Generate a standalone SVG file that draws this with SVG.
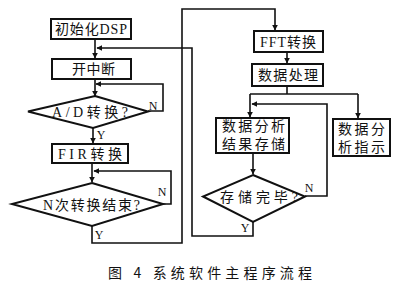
<svg xmlns="http://www.w3.org/2000/svg" width="399" height="290" viewBox="0 0 399 290">
<defs>
<marker id="ah" viewBox="0 0 10 10" refX="9" refY="5" markerWidth="6" markerHeight="6" orient="auto" markerUnits="userSpaceOnUse">
<path d="M0,0 L10,5 L0,10 z" fill="#111"/>
</marker>
<style>
.box{fill:#fff;stroke:#111;stroke-width:2}
.ln{fill:none;stroke:#111;stroke-width:1.6}
.t{font-family:"Liberation Serif","Noto Sans CJK SC",serif;font-size:14px;fill:#111;text-anchor:middle}
.lab{font-family:"Liberation Serif",serif;font-size:12px;fill:#111;text-anchor:middle}
.cap{font-family:"Noto Sans CJK SC",sans-serif;font-size:14px;fill:#111}
</style>
</defs>
<rect width="399" height="290" fill="#fff"/>
<g id="connectors">
<path class="ln" d="M95,39 V58" marker-end="url(#ah)"/>
<path class="ln" d="M95,79 V96" marker-end="url(#ah)"/>
<path class="ln" d="M148,111 H163 V84 H96" marker-end="url(#ah)"/>
<path class="ln" d="M93,128 V143" marker-end="url(#ah)"/>
<path class="ln" d="M92,163 V182" marker-end="url(#ah)"/>
<path class="ln" d="M163,204 H171 V171 H94" marker-end="url(#ah)"/>
<path class="ln" d="M92,226 V243 H182 V9 H275 V30" marker-end="url(#ah)"/>
<path class="ln" d="M287,52 V63" marker-end="url(#ah)"/>
<path class="ln" d="M287,86 V94"/>
<path class="ln" d="M250,94 H358"/>
<path class="ln" d="M250,94 V117" marker-end="url(#ah)"/>
<path class="ln" d="M358,94 V118" marker-end="url(#ah)"/>
<path class="ln" d="M305,196 H327 V104 H252" marker-end="url(#ah)"/>
<path class="ln" d="M253,153 V174" marker-end="url(#ah)"/>
<path class="ln" d="M253,222 V236 H192 V48 H97" marker-end="url(#ah)"/>
</g>
<g id="n1"><rect class="box" x="51" y="19" width="80" height="20"/><text class="t" x="91" y="34" textLength="72">初始化DSP</text></g>
<g id="n2"><rect class="box" x="52" y="59" width="79" height="20"/><text class="t" x="93.5" y="74" textLength="43">开中断</text></g>
<g id="n3"><polygon class="box" points="95,96 148,111.5 93,128 28,111.5"/><text class="t" x="90" y="116.5" textLength="76">A/D转换?</text></g>
<text class="lab" x="153" y="110">N</text>
<text class="lab" x="101" y="139">Y</text>
<g id="n4"><rect class="box" x="52" y="144" width="76" height="19"/><text class="t" x="90" y="158.5" textLength="64">FIR转换</text></g>
<g id="n5"><polygon class="box" points="92,183 163,204 92,226 12,204"/><text class="t" x="91.5" y="209.5" textLength="97">N次转换结束?</text></g>
<text class="lab" x="162" y="196">N</text>
<text class="lab" x="99" y="239">Y</text>
<g id="n6"><rect class="box" x="254" y="31" width="69" height="21"/><text class="t" x="288" y="46.5" textLength="56">FFT转换</text></g>
<g id="n7"><rect class="box" x="252" y="64" width="71" height="22"/><text class="t" x="288" y="80" textLength="60">数据处理</text></g>
<g id="n8"><rect class="box" x="216" y="118" width="73" height="35"/><text class="t" x="253.5" y="130.5" textLength="63">数据分析</text><text class="t" x="253.5" y="149" textLength="63">结果存储</text></g>
<g id="n9"><rect class="box" x="333" y="119" width="57" height="37"/><text class="t" x="361.5" y="134" textLength="47">数据分</text><text class="t" x="361.5" y="152" textLength="47">析指示</text></g>
<g id="n10"><polygon class="box" points="253,175 305,196.5 253,222 203,196.5"/><text class="t" x="259" y="202" textLength="78">存储完毕?</text></g>
<text class="lab" x="309" y="192">N</text>
<text class="lab" x="245" y="232">Y</text>
<text class="cap" x="108" y="278" textLength="204">图 4  系统软件主程序流程</text>
</svg>
